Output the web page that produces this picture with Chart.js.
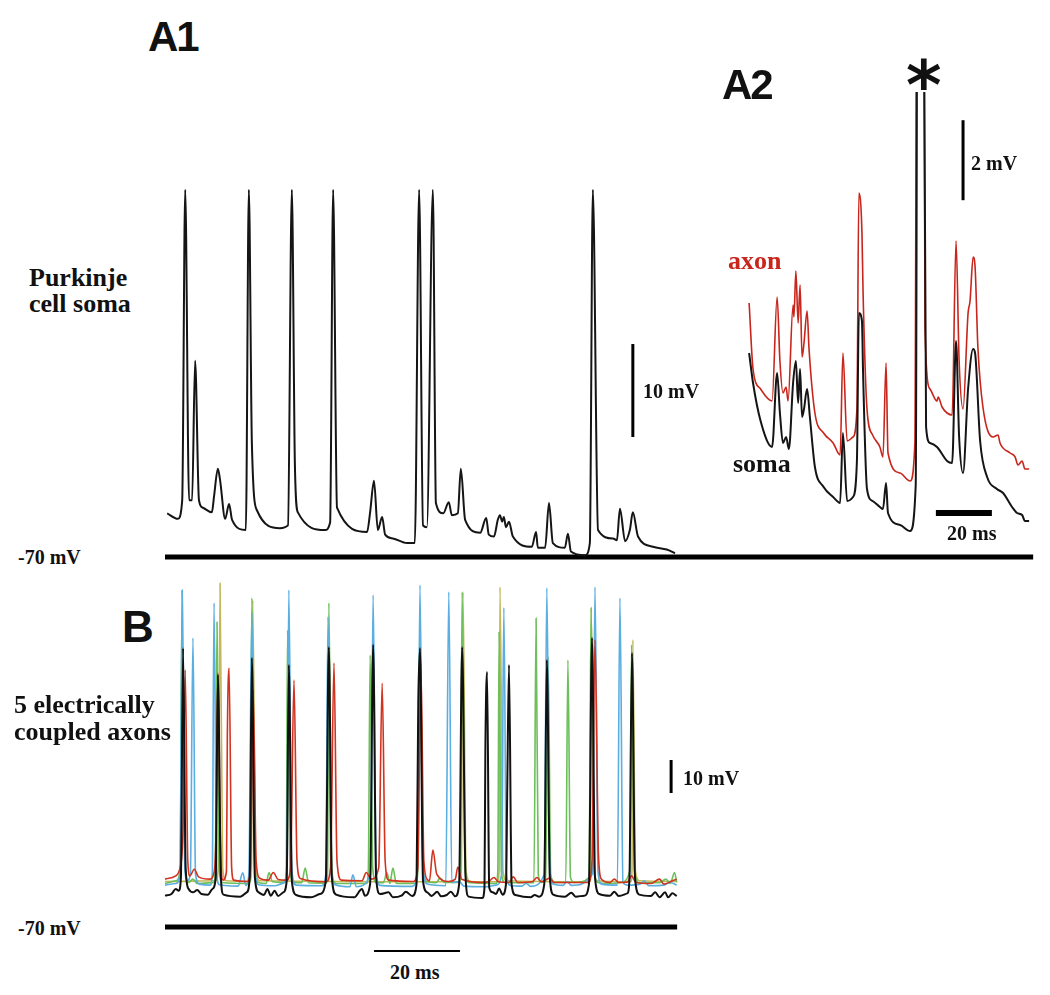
<!DOCTYPE html>
<html>
<head>
<meta charset="utf-8">
<script src="https://cdn.jsdelivr.net/npm/chart.js@4.4.1/dist/chart.umd.min.js"></script>
<style>
  html, body { margin: 0; padding: 0; background: #fff; }
  #page { position: relative; width: 1050px; height: 995px; overflow: hidden; background: #fff; }
  canvas { position: absolute; }
  .lbl { position: absolute; white-space: pre; line-height: 1; color: #111; }
  .serif { font-family: "Liberation Serif", "Times New Roman", serif; font-weight: bold; }
  .panel { font-family: "Liberation Sans", Arial, sans-serif; font-weight: bold; letter-spacing: -2px; }
</style>
</head>
<body>
<div id="page">
  <canvas id="cA1" width="880" height="395" style="left:160px; top:170px;"></canvas>
  <canvas id="cA2" width="300" height="448" style="left:740px; top:92px;"></canvas>
  <canvas id="cB" width="530" height="385" style="left:160px; top:575px;"></canvas>

  <div class="lbl panel" style="left:148px; top:16px; font-size:42px;">A1</div>
  <div class="lbl panel" style="left:722px; top:64px; font-size:42px;">A2</div>
  <div class="lbl panel" style="left:122px; top:605px; font-size:44px;">B</div>
  <div class="lbl" style="left:906px; top:52px; font-size:68px; font-family:'DejaVu Sans'; font-weight:bold;">*</div>

  <div class="lbl serif" style="left:29px; top:265px; font-size:26px; line-height:26px;">Purkinje
cell soma</div>
  <div class="lbl serif" style="left:14px; top:691px; font-size:26px; line-height:27px;">5 electrically
coupled axons</div>
  <div class="lbl serif" style="left:728px; top:248px; font-size:26px; color:#c8251c;">axon</div>
  <div class="lbl serif" style="left:733px; top:451px; font-size:26px;">soma</div>

  <div class="lbl serif" style="left:643px; top:381px; font-size:20px;">10 mV</div>
  <div class="lbl serif" style="left:971px; top:153px; font-size:20px;">2 mV</div>
  <div class="lbl serif" style="left:947px; top:523px; font-size:20px;">20 ms</div>
  <div class="lbl serif" style="left:18px; top:547px; font-size:20px;">-70 mV</div>
  <div class="lbl serif" style="left:18px; top:918px; font-size:20px;">-70 mV</div>
  <div class="lbl serif" style="left:683px; top:768px; font-size:20px;">10 mV</div>
  <div class="lbl serif" style="left:390px; top:962px; font-size:20px;">20 ms</div>
</div>
<script>
// ---------------- DATA (time in ms, membrane potential in mV) ----------------
const REST_MV = -70;

// A1: Purkinje cell soma
const A1_SOMA = [
[0.5,-65.3],[3.0,-65.9],[4.0,-63.9],[4.7,-30.5],[5.6,-63.9],[6.3,-63.9],[7.0,-48.9],[7.9,-63.9],[8.8,-64.7],[10.9,-65.2],[11.4,-63.5],[12.3,-60.5],[12.8,-61.7],[14.0,-65.9],[14.9,-64.3],[15.6,-66.0],[18.8,-67.1],[19.5,-30.5],[20.2,-57.7],[21.4,-65.0],[26.7,-66.9],[28.6,-66.6],[29.5,-30.5],[30.2,-59.9],[30.9,-65.2],[37.2,-67.1],[38.4,-66.3],[39.1,-30.5],[40.0,-64.7],[47.0,-67.3],[47.7,-65.2],[48.6,-61.8],[49.5,-67.1],[50.5,-65.7],[51.2,-67.6],[53.0,-68.0],[56.3,-68.5],[58.1,-68.5],[59.1,-30.5],[60.0,-66.6],[60.9,-66.8],[62.3,-30.5],[63.0,-64.2],[64.7,-65.3],[66.0,-64.1],[66.7,-65.5],[68.1,-65.3],[68.8,-60.5],[69.8,-66.0],[73.3,-67.4],[74.7,-65.8],[75.3,-67.6],[76.5,-67.8],[77.4,-66.0],[77.9,-65.5],[78.4,-66.2],[78.8,-65.7],[79.3,-66.8],[80.0,-66.2],[80.9,-67.8],[85.3,-68.9],[86.3,-67.3],[86.7,-69.0],[88.4,-69.0],[89.3,-64.2],[90.2,-68.5],[93.0,-69.0],[93.7,-67.5],[94.4,-69.4],[97.7,-69.8],[98.8,-68.5],[99.5,-30.5],[100.7,-67.1],[104.2,-68.0],[105.1,-68.2],[105.8,-64.8],[107.0,-68.3],[108.1,-67.1],[108.8,-65.2],[110.0,-67.8],[113.5,-68.9],[116.7,-69.2],[118.6,-69.6]
];

// A2: expanded view, axon (red) and soma (black)
const A2_AXON = [
[0.4,-63.65],[1.8,-65.3],[4.5,-65.8],[8.6,-66.1],[10.4,-63.5],[11.4,-65.1],[12.5,-65.9],[13.6,-65.75],[14.3,-66.1],[16.1,-63.7],[16.4,-64.0],[17.1,-62.85],[17.9,-64.15],[18.6,-63.2],[19.3,-65.0],[20.0,-64.65],[21.1,-63.85],[21.8,-64.8],[23.9,-66.4],[27.0,-66.9],[30.4,-67.15],[32.9,-67.45],[33.9,-64.9],[35.4,-67.1],[37.5,-67.0],[38.9,-66.3],[39.6,-60.9],[40.7,-61.9],[41.1,-63.4],[42.5,-66.3],[44.5,-66.95],[47.1,-67.25],[48.2,-67.5],[49.3,-65.15],[50.0,-67.4],[54.3,-67.9],[57.9,-68.1],[59.6,-67.15],[60.5,-50],[62.7,-50],[63.2,-64.25],[65.0,-65.8],[67.5,-66.1],[67.9,-66.0],[69.3,-66.25],[71.1,-66.4],[72.9,-66.45],[74.3,-62.1],[75.4,-65.1],[76.8,-66.3],[78.6,-63.9],[79.3,-63.6],[80.4,-62.5],[81.1,-62.75],[82.1,-64.75],[83.9,-66.25],[87.5,-67.0],[89.3,-66.95],[90.0,-67.15],[93.6,-67.4],[95.4,-67.5],[96.4,-67.7],[97.9,-67.6],[98.9,-67.8],[100.4,-67.8]
];
const A2_SOMA = [
[0.4,-64.9],[1.8,-65.65],[4.5,-66.6],[8.6,-67.25],[10.4,-65.4],[11.4,-66.4],[12.5,-67.15],[13.6,-67.0],[14.6,-67.3],[16.1,-65.65],[17.1,-65.1],[17.9,-66.15],[18.6,-65.3],[19.3,-66.5],[20.0,-66.3],[21.1,-65.8],[22.1,-66.5],[23.9,-67.75],[27.0,-68.25],[30.4,-68.5],[32.9,-68.65],[33.9,-66.9],[35.4,-68.6],[37.5,-68.5],[38.9,-67.6],[39.6,-63.9],[40.7,-64.1],[41.1,-65.4],[42.5,-68.3],[44.5,-68.6],[47.1,-68.75],[48.2,-68.8],[49.3,-68.15],[50.0,-68.9],[54.3,-69.2],[57.9,-69.35],[59.9,-68.2],[60.7,-50],[62.3,-50],[63.6,-66.75],[65.0,-67.15],[67.5,-67.25],[71.1,-67.6],[72.9,-67.65],[74.3,-64.6],[75.4,-67.0],[76.8,-67.9],[78.6,-65.8],[80.4,-64.8],[81.1,-64.9],[82.9,-67.1],[85.4,-68.0],[88.9,-68.3],[91.1,-68.4],[94.3,-68.75],[96.1,-68.9],[97.9,-68.95],[98.9,-69.1],[100.4,-69.1]
];

// B: five electrically coupled axons
const B_BLACK = [
[0,-60.5],[1.5,-60.0],[2.5,-58.5],[3.2,-59.0],[3.7,-55],[4.2,14.5],[4.8,-52],[5.5,-58.5],[6.5,-59.5],[7.5,-58.8],[8.5,-60.0],[10,-60.2],[11.0,-58.5],[11.8,-55],[12.3,6.4],[13.0,-55],[13.6,-60.2],[17.5,-60.8],[19.0,-59.5],[19.7,-55],[20.2,11.5],[20.9,-55],[21.8,-59.5],[23,-60.3],[23.8,-58.5],[24.6,-60.5],[25.5,-59.0],[26.3,-60.6],[27.5,-59.5],[28.3,-56],[28.8,9.4],[29.5,-56],[30.5,-60.3],[34,-61.0],[36,-60.0],[37.4,-56],[38.1,14.8],[38.8,-55],[39.8,-60.2],[44,-61.0],[45.8,-58.5],[46.5,-60.5],[47.7,-57],[48.4,15.5],[49.1,-55],[50,-60.0],[52,-59.5],[53,-61.0],[55,-60.5],[56,-59.3],[57.5,-60.6],[58.5,-57],[58.9,-2],[59.3,14.5],[60,-56],[61,-59.5],[62,-60.6],[63.3,-59.3],[64.2,-60.7],[65.5,-60.3],[66.5,-59.3],[67.5,-60.7],[68.4,-57],[69.1,14.8],[69.9,-55],[70.6,-60.8],[73.8,-61.2],[74.3,-58],[74.5,-17],[74.9,7.3],[75.4,-58],[76.2,-59.5],[77,-60.0],[77.7,-58.3],[78.5,-60.2],[79.3,-57],[79.6,-27.6],[80.0,9.4],[80.6,-57],[81.5,-60.3],[85,-61.0],[86,-60.3],[87,-60.8],[88.2,-57],[88.8,10.9],[89.5,-55],[90.3,-60.2],[93,-60.8],[94.5,-59.6],[95.5,-60.8],[97.5,-60.5],[98.6,-57],[99.3,17.6],[100.0,-55],[101,-60.0],[103.5,-60.5],[104.5,-59.3],[105.5,-60.6],[107.5,-59.8],[108.0,-56],[108.6,13.0],[109.3,-55],[110.3,-60.2],[113,-60.6],[114,-59.5],[115,-61.0],[116.3,-59.5],[117,-61.0],[118,-59.8],[119,-60.6]
];
const B_RED = [
[0,-55.5],[2.5,-54.5],[3.5,-52],[4.2,-40],[4.7,7.9],[5.3,-50],[5.8,-54.5],[6.8,-52.5],[7.8,-54.8],[10.5,-55.5],[11.3,-54],[11.8,-45],[12.3,7.0],[12.9,-45],[13.5,-55.8],[14.3,-53],[14.5,-12.4],[14.9,8.5],[15.5,-52],[16,-55.8],[19.2,-56.2],[19.9,-52],[20.5,1.8],[21.2,-50],[22,-55.2],[24,-55.8],[25.2,-53.5],[26.3,-55.6],[28.3,-55.8],[29.2,-52],[30.0,4.8],[30.7,-50],[31.5,-55.3],[37.5,-56.3],[38.5,-52],[39.3,10.0],[40,-50],[41,-55.8],[45.8,-56.0],[46.8,-53.5],[48,-55.5],[49.7,-52],[50.5,3.9],[51.2,-50],[52,-55.8],[57.8,-56.2],[58.8,-52],[59.5,10.0],[60.2,-50],[61,-55.6],[61.5,-56.0],[62.3,-46.7],[63.2,-54],[66,-56.2],[67.5,-55.5],[68.1,-51.8],[69,-55.5],[74.5,-56.5],[75.5,-56.0],[76.5,-55.0],[77.5,-56.3],[80,-56.5],[81,-54.8],[82,-56.5],[85.5,-56.2],[86.5,-55.0],[87.5,-56.3],[89.5,-55.2],[90.5,-56.5],[98.5,-56.5],[99.3,-50],[100.0,17.0],[100.8,-48],[101.5,-55.5],[103.5,-56.5],[104.5,-55.5],[105.5,-56.5],[107.5,-56.4],[108.5,-54.5],[109.5,-56.5],[113,-56.8],[115,-55.5],[116,-57],[118,-56],[119,-55.5]
];
const B_BLUE = [
[0,-57.3],[2.5,-56.8],[3.5,-54],[4.0,32.1],[4.6,-52],[5.2,-56],[5.9,-54],[6.5,17.6],[7.1,-54],[8,-57],[10.5,-57.3],[11.0,-54],[11.4,28.2],[12.0,-54],[12.7,-57.2],[17,-57.6],[18.1,-53.6],[18.8,-57.4],[19.5,-54],[20.2,25.2],[20.9,-53],[21.8,-57.2],[25.5,-57.5],[27.5,-56.7],[28.3,-53],[28.8,32.1],[29.5,-53],[30.5,-57.3],[36.5,-57.5],[37.4,-54],[37.9,24.0],[38.6,-53],[39.6,-57.2],[43,-57.8],[43.7,-54.2],[44.5,-57.8],[47.8,-54],[48.4,30.6],[49.1,-53],[50,-57.4],[57.5,-57.7],[58.7,-53],[59.3,33.6],[60,-52],[61,-57.0],[65.3,-57.5],[66.0,31.5],[66.7,-56.5],[68.5,-56.3],[69.5,-57.6],[74.5,-57.8],[77,-57.3],[78.3,-54],[78.8,26.7],[79.4,-54],[80.3,-57.4],[83,-57.6],[84,-56.8],[85,-57.7],[88.2,-54],[88.8,32.7],[89.5,-53],[90.3,-57.0],[92.5,-57.4],[93.5,-56.2],[94.5,-57.4],[99.4,-54],[100.0,33.0],[100.7,-53],[101.5,-57.0],[105.2,-57.3],[105.8,29.7],[106.5,-56.5],[107.5,-57.3],[110.5,-57.0],[111.5,-56.0],[112.5,-57.5],[116,-57.3],[117.5,-56.5],[119,-57.3]
];
const B_GREEN = [
[0,-56.8],[2.5,-56],[3.5,-53],[4.0,32.0],[4.6,-51],[5.5,-56.5],[6.5,-55.5],[7.5,-56.8],[11.3,-56.5],[11.7,-52],[12.1,22.4],[12.6,-52],[13.3,-56.5],[19.5,-56.8],[19.8,-53],[20.2,29.7],[20.9,-53],[21.7,-56.5],[23.5,-56.8],[24.2,-53.5],[25,-56.3],[27.8,-56.5],[28.2,-53],[28.5,20],[29.1,-53],[30,-56.5],[31.8,-56.6],[32.6,-52.1],[33.4,-56.6],[37.4,-56.7],[37.8,-53],[38.1,28.2],[38.8,-53],[39.8,-56.8],[46.9,-56.8],[47.3,-52],[47.7,12.4],[48.3,-52],[49.2,-56.6],[50.8,-56.6],[51.6,-53.5],[52.3,-56.8],[53.0,-52.1],[53.8,-56.8],[58.3,-56.8],[58.8,-53],[59.3,22.1],[60,-53],[61,-56.3],[63,-56.6],[64.0,-55.2],[65,-56.5],[68.3,-56.5],[68.7,-53],[69.1,31.5],[69.8,-53],[70.8,-56.6],[77,-56.8],[77.4,-53],[77.7,19.4],[78.2,-53],[79,-56.5],[85.8,-56.6],[86.3,23.6],[86.8,-54],[87.5,-56.5],[88.5,-55],[89.1,11.8],[89.7,-54],[90.5,-56.5],[93.2,-56.5],[93.7,10.9],[94.3,-55],[95.2,-56.5],[98.6,-55],[99.1,26.7],[99.8,-53],[100.7,-56.5],[104,-56.8],[106,-56.5],[108.1,-53],[108.5,15.5],[109.2,-53],[110.2,-56.5],[115,-56.6],[116.5,-55.5],[117.5,-56.8],[118.5,-53.5],[119,-56.5]
];
const B_OLIVE = [
[0,-56.2],[11.8,-56.0],[12.4,-52],[12.8,34.2],[13.4,-52],[14.2,-56.0],[19.7,-56.2],[20.1,-53],[20.4,29.0],[21.1,-53],[22,-56.0],[68.5,-56.3],[68.9,-53],[69.3,31.5],[70,-53],[71,-56.2],[77.3,-56.3],[77.7,-53],[77.9,33.0],[78.6,-53],[79.5,-56.0],[98.5,-56.3],[98.9,-53],[99.1,27],[99.8,-53],[100.6,-56.0],[108.3,-56.3],[108.6,-53],[108.8,17.0],[109.4,-53],[110.3,-56.0],[119,-56.2]
];

// Reference lines (-70 mV) extents, ms
const A1_REST_SPAN = [0, 201.9];
const B_REST_SPAN = [0, 119.1];

// Scale bars
const A1_BAR_MV = 10, A2_BAR_MV = 2, A2_BAR_MS = 20, B_BAR_MV = 10, B_BAR_MS = 20;
// scale bar anchors (ms, mV)
const A1_BAR_AT = [108.8, -57.1];
const A2_VBAR_AT = [76.8, -61.08];
const A2_HBAR_AT = [67.1, -68.9];
const B_VBAR_AT = [117.7, -29.4];
const B_HBAR_AT = [48.6, -77.3];

// ---------------- LAYOUT ----------------
const PANELS = {
  A1: { left:160, top:170, w:880, h:395, x0px:165, pxPerMs:4.3, y0px:557, pxPerMv:9.3 },
  A2: { left:740, top:92,  w:300, h:448, x0px:748, pxPerMs:2.8, y0px:557, pxPerMv:40 },
  B:  { left:160, top:575, w:530, h:385, x0px:165, pxPerMs:4.3, y0px:927, pxPerMv:3.3 }
};

function pts(arr){ return arr.map(p => ({x:p[0], y:p[1]})); }
function trace(data, color, width){
  return { data: pts(data), borderColor: color, borderWidth: width, showLine: true,
    pointRadius: 0, cubicInterpolationMode: 'monotone', fill: false, clip: 0,
    borderJoinStyle: 'round', borderCapStyle: 'butt' };
}
function bar(data, color, width){
  return { data: pts(data), borderColor: color, borderWidth: width, showLine: true,
    pointRadius: 0, tension: 0, fill: false, clip: 0, borderCapStyle: 'butt' };
}
function makeChart(id, p, datasets){
  const xmin = (p.left - p.x0px) / p.pxPerMs;
  const xmax = (p.left + p.w - p.x0px) / p.pxPerMs;
  const ymax = REST_MV + (p.y0px - p.top) / p.pxPerMv;
  const ymin = REST_MV + (p.y0px - (p.top + p.h)) / p.pxPerMv;
  return new Chart(document.getElementById(id), {
    type: 'scatter',
    data: { datasets },
    options: {
      responsive: false, animation: false, devicePixelRatio: 1,
      layout: { padding: 0 },
      plugins: { legend: { display: false }, tooltip: { enabled: false } },
      events: [],
      scales: {
        x: { type: 'linear', display: false, min: xmin, max: xmax },
        y: { type: 'linear', display: false, min: ymin, max: ymax }
      }
    }
  });
}

// A1
makeChart('cA1', PANELS.A1, [
  trace(A1_SOMA, '#151515', 2),
  bar([[A1_REST_SPAN[0], REST_MV],[A1_REST_SPAN[1], REST_MV]], '#000', 5),
  bar([[A1_BAR_AT[0], A1_BAR_AT[1]],[A1_BAR_AT[0], A1_BAR_AT[1] + A1_BAR_MV]], '#000', 3)
]);

// A2 (soma drawn on top of axon)
makeChart('cA2', PANELS.A2, [
  trace(A2_SOMA, '#151515', 2),
  trace(A2_AXON, '#c8251c', 1.6),
  bar([[A2_VBAR_AT[0], A2_VBAR_AT[1]],[A2_VBAR_AT[0], A2_VBAR_AT[1] + A2_BAR_MV]], '#000', 3),
  bar([[A2_HBAR_AT[0], A2_HBAR_AT[1]],[A2_HBAR_AT[0] + A2_BAR_MS, A2_HBAR_AT[1]]], '#000', 6)
]);

// B (first dataset is drawn on top)
makeChart('cB', PANELS.B, [
  trace(B_BLACK, '#111', 2),
  trace(B_RED, '#d2321e', 1.6),
  trace(B_BLUE, '#5aaee0', 1.6),
  trace(B_GREEN, '#6cbf5a', 1.6),
  trace(B_OLIVE, '#c2b85a', 1.6),
  bar([[B_REST_SPAN[0], REST_MV],[B_REST_SPAN[1], REST_MV]], '#000', 5),
  bar([[B_VBAR_AT[0], B_VBAR_AT[1]],[B_VBAR_AT[0], B_VBAR_AT[1] + B_BAR_MV]], '#000', 3),
  bar([[B_HBAR_AT[0], B_HBAR_AT[1]],[B_HBAR_AT[0] + B_BAR_MS, B_HBAR_AT[1]]], '#000', 2)
]);
</script>
</body>
</html>
